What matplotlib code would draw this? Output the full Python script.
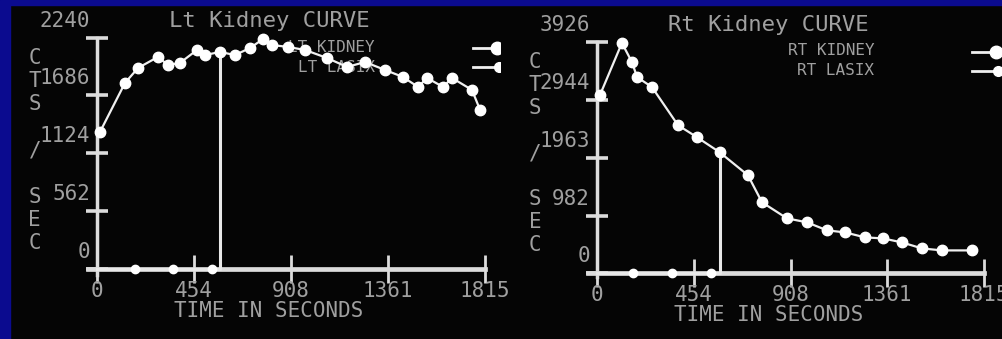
import matplotlib
matplotlib.use('Agg')
import matplotlib.pyplot as plt
from matplotlib.patches import Rectangle
from matplotlib.transforms import Bbox, TransformedBbox

# renogram values (time in s, counts/s)
time_ticks = [0, 454, 908, 1361, 1815]

lt_time = [14, 131, 192, 285, 332, 388, 468, 505, 575, 646, 716, 777, 819,
           894, 973, 1076, 1170, 1254, 1347, 1431, 1502, 1544, 1619, 1661,
           1754, 1792]
lt_counts = [1328, 1804, 1949, 2056, 1978, 1998, 2124, 2075, 2104, 2075,
             2143, 2230, 2172, 2153, 2124, 2046, 1959, 2007, 1930, 1862,
             1765, 1852, 1765, 1852, 1736, 1542]
lt_lasix_time = [0, 178, 356, 538, 575, 575]
lt_lasix_counts = [0, 0, 0, 0, 0, 2104]
lt_ticks = [0, 562, 1124, 1686, 2240]

rt_time = [14, 117, 164, 188, 258, 380, 469, 575, 708, 774, 891, 985, 1079,
           1163, 1257, 1341, 1430, 1524, 1618, 1759]
rt_counts = [3025, 3909, 3586, 3331, 3161, 2515, 2311, 2057, 1666, 1207,
             935, 867, 731, 697, 612, 595, 527, 425, 391, 391]
rt_lasix_time = [0, 169, 352, 535, 575, 575]
rt_lasix_counts = [0, 0, 0, 0, 0, 2057]
rt_ticks = [0, 982, 1963, 2944, 3926]

W, H = 1002, 339
BLUE = '#0b0b8f'
BG = '#050505'
TXT = '#a0a0a0'
AXC = '#dcdcdc'
MONO = 'DejaVu Sans Mono'


def px_axes(fig, x0, x1, y_top, y_bot):
    return fig.add_axes([x0 / W, 1 - y_bot / H, (x1 - x0) / W, (y_bot - y_top) / H])


def draw_panel(ax, t, c, lt, lc, yticks, title, names, clip=None):
    '''One kidney curve panel in the old gamma camera style'''
    ax.set_facecolor(BG)
    ax.set_xlim(-42, 1815)
    ax.set_ylim(-60, yticks[-1])
    for s in ['top', 'right']:
        ax.spines[s].set_visible(False)
    ax.spines['left'].set_position(('data', 0))
    ax.spines['bottom'].set_position(('data', 0))
    ax.spines['left'].set_color(AXC)
    ax.spines['bottom'].set_color(AXC)
    ax.spines['left'].set_linewidth(2.5)
    ax.spines['bottom'].set_linewidth(3.4)
    ax.set_xticks(time_ticks, labels=[])
    ax.set_yticks(yticks, labels=[])
    ax.tick_params(axis='x', direction='inout', length=20, width=2, color=AXC)
    ax.tick_params(axis='y', direction='inout', length=16, width=2.6, color=AXC)

    for v in time_ticks:
        ax.annotate(str(v), xy=(v, 0), xytext=(0, -12), textcoords='offset pixels',
                    ha='center', va='top', color=TXT, fontsize=15, family=MONO)
    for v in yticks:
        ax.annotate(str(v), xy=(0, v), xytext=(-7, 17), textcoords='offset pixels',
                    ha='right', va='center', color=TXT, fontsize=15, family=MONO)

    ax.annotate('TIME IN SECONDS', xy=(805, 0), xytext=(0, -42), textcoords='offset pixels',
                ha='center', va='center', color=TXT, fontsize=15, family=MONO)
    ax.annotate(title, xy=(805, yticks[-1]), xytext=(0, 17), textcoords='offset pixels',
                ha='center', va='center', color=TXT, fontsize=16, family=MONO)

    # stacked axis label
    for i, ch in enumerate('CTS / SEC'):
        ax.text(-0.134, 0.916 - i * 0.0975, ch, transform=ax.transAxes,
                ha='center', va='center', color=TXT, fontsize=15, family=MONO)

    # curves
    ax.plot(lt, lc, color='#e8e8e8', lw=2.2, marker='o', ms=6, mfc='white', mec='white',
            markevery=[1, 2, 3], clip_on=False, zorder=4)
    ax.plot(t, c, color='#f0f0f0', lw=1.6, marker='o', ms=7.5, mfc='white', mec='white',
            clip_on=False, zorder=5)

    # legend
    ax.text(0.723, 0.962, names[0], transform=ax.transAxes, ha='right', va='center',
            color=TXT, fontsize=11.5, family=MONO)
    ax.text(0.723, 0.877, names[1], transform=ax.transAxes, ha='right', va='center',
            color=TXT, fontsize=11.5, family=MONO)
    k, = ax.plot([0.970, 1.030], [0.958, 0.958], color='#f0f0f0', lw=2, marker='o', ms=9,
                 markevery=[1], mfc='white', mec='white', transform=ax.transAxes)
    l, = ax.plot([0.970, 1.035], [0.878, 0.878], color='#f0f0f0', lw=2, marker='o', ms=7,
                 markevery=[1], mfc='white', mec='white', transform=ax.transAxes)
    for ln in (k, l):
        ln.set_clip_on(True)
        ln.set_clip_box(clip if clip is not None else
                        TransformedBbox(Bbox.from_extents(0, 0, 1, 1), fig.transFigure))


fig = plt.figure(figsize=(W / 100, H / 100), dpi=100, facecolor=BG)
fig.patches.append(Rectangle((0, 0), 10 / W, 1, transform=fig.transFigure,
                             color=BLUE, zorder=0))
fig.patches.append(Rectangle((0, 1 - 5 / H), 1, 5 / H, transform=fig.transFigure,
                             color=BLUE, zorder=0))

ax1 = px_axes(fig, 88, 485, 38, 275)
ax2 = px_axes(fig, 588, 984, 42, 277)

left_clip = TransformedBbox(Bbox.from_extents(0, 0, 500 / W, 1), fig.transFigure)
draw_panel(ax1, lt_time, lt_counts, lt_lasix_time, lt_lasix_counts, lt_ticks,
           'Lt Kidney CURVE', ['LT KIDNEY', 'LT LASIX'], clip=left_clip)
draw_panel(ax2, rt_time, rt_counts, rt_lasix_time, rt_lasix_counts, rt_ticks,
           'Rt Kidney CURVE', ['RT KIDNEY', 'RT LASIX'])

fig.savefig('out.png', dpi=100, facecolor=fig.get_facecolor())
